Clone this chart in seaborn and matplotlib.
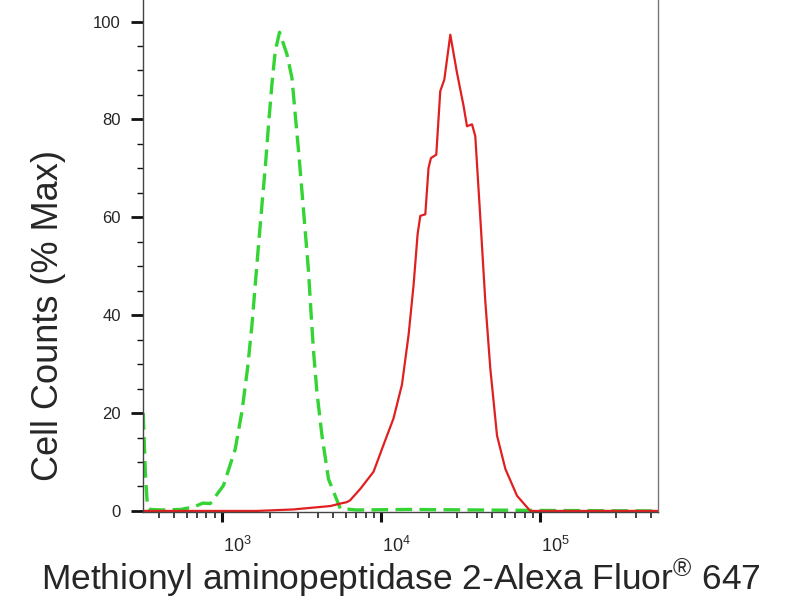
import numpy as np
import pandas as pd
import matplotlib
matplotlib.use('Agg')
import matplotlib.pyplot as plt
import matplotlib.ticker as mticker
import matplotlib.transforms as mtrans
import seaborn as sns

# control histogram (dashed green)
ctrl_x = [320, 330, 340, 354, 420, 550, 663, 760, 844, 1023, 1212, 1336, 1449,
          1545, 1620, 1700, 1786, 1873, 1964, 2063, 2164, 2303, 2564, 2756,
          2891, 3034, 3186, 3342, 3505, 3630, 3770, 3957, 4256, 4680, 5546,
          7000, 15000, 40000, 100000, 555000]
ctrl_y = [20, 8, 1, 0.3, 0.2, 0.3, 0.8, 1.6, 1.5, 5.2, 12.6, 20.3, 29.1,
          38.0, 46.2, 54.4, 62.6, 70.1, 78.9, 87.2, 94.0, 97.8, 93.3, 88.5,
          81.0, 73.5, 65.3, 57.1, 48.9, 40.7, 32.5, 24.3, 15.4, 6.5, 0.5,
          0.2, 0.3, 0.2, 0.1, 0]

# stained sample histogram (solid red)
samp_x = [320, 1660, 2807, 4800, 5546, 6110, 6410, 7410, 8980, 10380, 11990,
          13550, 14920, 16040, 16990, 17670, 19000, 19910, 20620, 22270, 23600,
          25010, 27290, 30070, 33050, 34740, 37350, 39170, 42150, 45300, 48690,
          53660, 60530, 71660, 86840, 555000]
samp_y = [0, 0, 0.3, 1.0, 1.5, 1.8, 2.2, 4.5, 8.0, 13.5, 18.9,
          25.8, 36.0, 46.2, 56.5, 60.3, 60.6, 70.1, 72.1, 72.8, 85.8,
          88.1, 97.3, 89.5, 82.8, 78.6, 79.0, 76.6, 59.8, 42.8, 29.1,
          15.4, 8.6, 3.1, 0, 0]

x_ticks = [1e3, 1e4, 1e5]
x_tick_labels = [r'$10^{3}$', r'$10^{4}$', r'$10^{5}$']
y_ticks = [0, 20, 40, 60, 80, 100]

sns.set_style('ticks')
plt.rcParams['font.family'] = ['Liberation Sans', 'DejaVu Sans']
plt.rcParams['mathtext.fontset'] = 'custom'
plt.rcParams['mathtext.rm'] = 'Liberation Sans'
plt.rcParams['mathtext.it'] = 'Liberation Sans:italic'
plt.rcParams['mathtext.bf'] = 'Liberation Sans:bold'

fig = plt.figure(figsize=(8, 6), dpi=100)
ax = fig.add_axes([0.179, 0.146, 0.644, 0.854])

df_ctrl = pd.DataFrame({'x': ctrl_x, 'y': ctrl_y})
df_samp = pd.DataFrame({'x': samp_x, 'y': samp_y})

sns.lineplot(data=df_ctrl, x='x', y='y', ax=ax, color='#33d433', lw=2.4,
             linestyle=(0, (5, 2.2)))
sns.lineplot(data=df_samp, x='x', y='y', ax=ax, color='#e02020', lw=1.6)

ax.set_xscale('log')
ax.set_xlim(320, 555000)
ax.set_ylim(-0.3, 104.4)

ax.set_xticks(x_ticks)
ax.set_xticklabels(x_tick_labels)
ax.xaxis.set_minor_locator(mticker.LogLocator(base=10, subs=np.arange(2, 10)))
ax.xaxis.set_minor_formatter(mticker.NullFormatter())
ax.set_yticks(y_ticks)
ax.yaxis.set_minor_locator(mticker.MultipleLocator(5))

ax.tick_params(axis='x', which='major', length=7, width=2.2, pad=10,
               labelsize=13, color='#111111')
ax.tick_params(axis='x', which='minor', length=4.5, width=1.1, color='#111111')
ax.tick_params(axis='y', which='major', length=9, width=2, pad=7,
               labelsize=12, color='#111111')
ax.tick_params(axis='y', which='minor', length=4, width=1, color='#111111')

ax.spines['top'].set_visible(False)
for side in ['left', 'bottom']:
    ax.spines[side].set_color('#444444')
    ax.spines[side].set_linewidth(1.0)
ax.spines['right'].set_color('#777777')
ax.spines['right'].set_linewidth(1.0)

# the tick labels sit a bit right of their ticks
shift = mtrans.ScaledTranslation(0.15, 0, fig.dpi_scale_trans)
for lab in ax.get_xticklabels():
    lab.set_transform(lab.get_transform() + shift)

ax.set_ylabel('Cell Counts (% Max)', fontsize=26)
ax.yaxis.label.set_verticalalignment('center')
ax.yaxis.set_label_coords(-0.184, 0.385)

ax.set_xlabel(r'Methionyl aminopeptidase 2-Alexa Fluor$^{\mathrm{®}}$ 647',
              fontsize=25.5)
ax.xaxis.label.set_verticalalignment('center')
ax.xaxis.set_label_coords(0.5, -0.128)

fig.savefig('out.png', dpi=100)
